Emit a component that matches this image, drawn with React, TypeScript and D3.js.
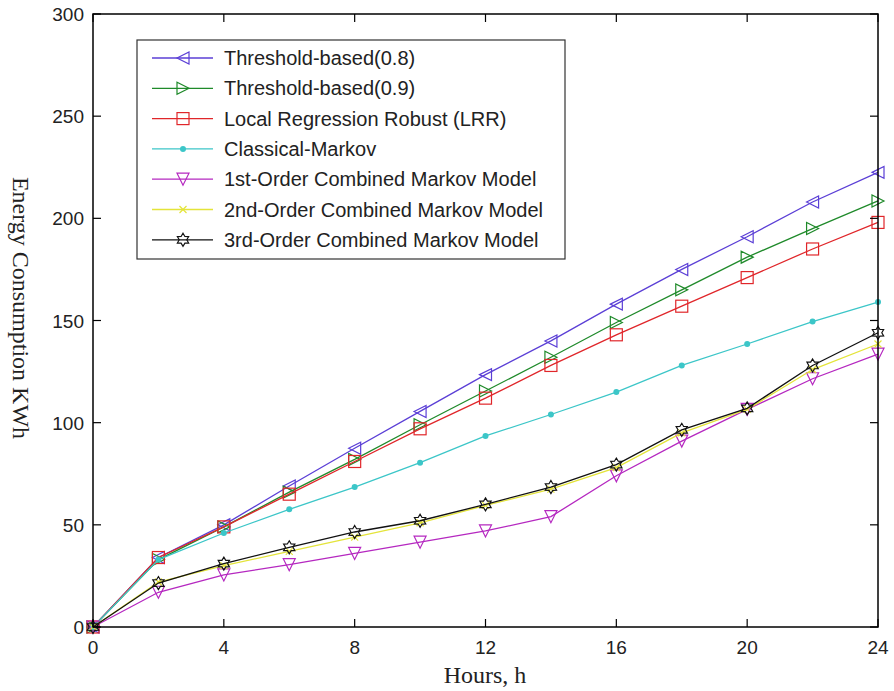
import React from "react";
import * as d3 from "d3";

const hours = [0, 2, 4, 6, 8, 10, 12, 14, 16, 18, 20, 22, 24];
const threshold08 = [0, 34, 50, 69, 87.5, 105.5, 123.5, 140, 158, 175, 191, 208, 222.5];
const threshold09 = [0, 33, 49, 66, 82, 99, 115.5, 132, 149, 165, 181, 195, 208.5];
const lrr = [0, 34, 49, 65, 81, 97, 112, 128, 143, 157, 171, 185, 198];
const classical = [0, 33, 46, 57.6, 68.5, 80.4, 93.5, 104, 115, 128, 138.5, 149.5, 159];
const firstOrder = [0, 17, 25.5, 30.5, 36, 41.5, 47, 54, 74, 91, 106.5, 121.5, 133.5];
const secondOrder = [0, 22, 30, 37, 44, 51, 59.5, 67.5, 78, 95, 106.5, 126, 138.5];
const thirdOrder = [0, 21.5, 31, 39, 46.5, 52, 60, 68.5, 79.5, 96.5, 107, 128, 144];

const seriesNames = [
  "Threshold-based(0.8)",
  "Threshold-based(0.9)",
  "Local Regression Robust (LRR)",
  "Classical-Markov",
  "1st-Order Combined Markov Model",
  "2nd-Order Combined Markov Model",
  "3rd-Order Combined Markov Model",
];
const seriesValues = [threshold08, threshold09, lrr, classical, firstOrder, secondOrder, thirdOrder];
const seriesColors = ["#5b3fd6", "#1f8a2a", "#e0262a", "#3cc6c8", "#b528c0", "#e4e43a", "#111111"];
const seriesMarkers = ["left", "right", "square", "dot", "down", "x", "hex"];

const xTicks = [0, 4, 8, 12, 16, 20, 24];
const yTicks = [0, 50, 100, 150, 200, 250, 300];

const W = 894;
const H = 691;
const M = { left: 93, right: 878, top: 14, bottom: 627 };

function Marker({ type, x, y, color }: { type: string; x: number; y: number; color: string }) {
  const r = 6;
  const common = { fill: "none", stroke: color, strokeWidth: 1.2 };
  if (type === "left") {
    return <path d={`M${x - r},${y} L${x + r},${y - r} L${x + r},${y + r} Z`} {...common} />;
  }
  if (type === "right") {
    return <path d={`M${x + r},${y} L${x - r},${y - r} L${x - r},${y + r} Z`} {...common} />;
  }
  if (type === "down") {
    return <path d={`M${x},${y + r} L${x - r},${y - r} L${x + r},${y - r} Z`} {...common} />;
  }
  if (type === "square") {
    return <rect x={x - r} y={y - r} width={2 * r} height={2 * r} {...common} />;
  }
  if (type === "dot") {
    return <circle cx={x} cy={y} r={3} fill={color} stroke="none" />;
  }
  if (type === "x") {
    const s = 3.5;
    return (
      <path d={`M${x - s},${y - s} L${x + s},${y + s} M${x - s},${y + s} L${x + s},${y - s}`} stroke={color} strokeWidth={1.2} fill="none" />
    );
  }
  // hexagram
  const ro = 6.5;
  const ri = 3.8;
  const pts: string[] = [];
  for (let i = 0; i < 12; i++) {
    const a = (Math.PI / 6) * i - Math.PI / 2;
    const rr = i % 2 === 0 ? ro : ri;
    pts.push(`${x + rr * Math.cos(a)},${y + rr * Math.sin(a)}`);
  }
  return <polygon points={pts.join(" ")} {...common} />;
}

export default function App() {
  const x = d3.scaleLinear().domain([0, 24]).range([M.left, M.right]);
  const y = d3.scaleLinear().domain([0, 300]).range([M.bottom, M.top]);
  const line = d3
    .line<[number, number]>()
    .x((d) => x(d[0]))
    .y((d) => y(d[1]));

  const tickLen = 8;
  const legend = { x: 137, y: 40, w: 428, h: 219, row0: 58, rowH: 30.3 };

  return (
    <div style={{ position: "absolute", left: 0, top: 0 }}>
      <svg width={W} height={H} style={{ display: "block", background: "#fff" }}>
        <rect x={0} y={0} width={W} height={H} fill="#fff" />
        {seriesValues.map((vals, i) => {
          const pts = hours.map((h, j) => [h, vals[j]] as [number, number]);
          return (
            <g key={i}>
              <path d={line(pts) || ""} fill="none" stroke={seriesColors[i]} strokeWidth={1.3} />
              {pts.map((p, j) => (
                <Marker key={j} type={seriesMarkers[i]} x={x(p[0])} y={y(p[1])} color={seriesColors[i]} />
              ))}
            </g>
          );
        })}
        <rect x={M.left} y={M.top} width={M.right - M.left} height={M.bottom - M.top} fill="none" stroke="#000" strokeWidth={1.5} />
        {xTicks.map((t) => (
          <g key={"x" + t}>
            <line x1={x(t)} x2={x(t)} y1={M.bottom} y2={M.bottom - tickLen} stroke="#000" strokeWidth={1.2} />
            <line x1={x(t)} x2={x(t)} y1={M.top} y2={M.top + tickLen} stroke="#000" strokeWidth={1.2} />
            <text x={x(t)} y={M.bottom + 27} textAnchor="middle" fontFamily="'Liberation Sans', Arial, sans-serif" fontSize={19} fill="#222">
              {t}
            </text>
          </g>
        ))}
        {yTicks.map((t) => (
          <g key={"y" + t}>
            <line x1={M.left} x2={M.left + tickLen} y1={y(t)} y2={y(t)} stroke="#000" strokeWidth={1.2} />
            <line x1={M.right} x2={M.right - tickLen} y1={y(t)} y2={y(t)} stroke="#000" strokeWidth={1.2} />
            <text x={M.left - 9} y={y(t) + 7} textAnchor="end" fontFamily="'Liberation Sans', Arial, sans-serif" fontSize={19} fill="#222">
              {t}
            </text>
          </g>
        ))}
        <text x={485} y={683} textAnchor="middle" fontFamily="'Liberation Serif', 'Times New Roman', serif" fontSize={24} fill="#222">
          Hours, h
        </text>
        <text
          transform={`translate(13, 308) rotate(90)`}
          textAnchor="middle"
          fontFamily="'Liberation Serif', 'Times New Roman', serif"
          fontSize={24}
          fill="#222"
        >
          Energy Consumption KWh
        </text>
        <rect x={legend.x} y={legend.y} width={legend.w} height={legend.h} fill="#fff" stroke="#333" strokeWidth={1.2} />
        {seriesNames.map((name, i) => {
          const ry = legend.row0 + i * legend.rowH;
          return (
            <g key={"lg" + i}>
              <line x1={152} x2={213} y1={ry} y2={ry} stroke={seriesColors[i]} strokeWidth={1.3} />
              <Marker type={seriesMarkers[i]} x={183} y={ry} color={seriesColors[i]} />
              <text x={224} y={ry + 7} fontFamily="'Liberation Sans', Arial, sans-serif" fontSize={20} fill="#222">
                {name}
              </text>
            </g>
          );
        })}
      </svg>
    </div>
  );
}
